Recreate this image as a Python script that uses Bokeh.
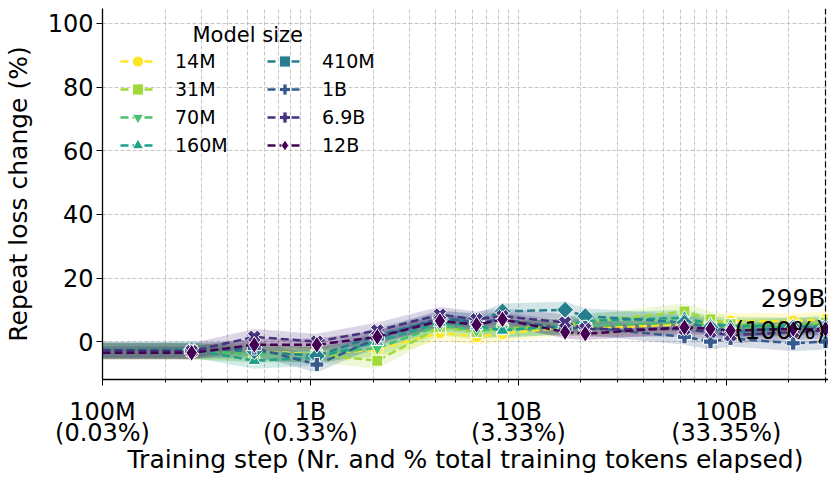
import numpy as np
from bokeh.plotting import figure
from bokeh.models import FixedTicker, Legend, LegendItem, Label, Span, Range1d, LogAxis
from bokeh.embed import file_html
from bokeh.resources import INLINE

# ---------------- data ----------------
TOKENS_PER_STEP = 2097152
steps = [32, 128, 256, 512, 1000, 2000, 3000, 4000, 8000, 10000,
         30000, 40000, 50000, 100000, 143000]

model_sizes = ["14M", "31M", "70M", "160M", "410M", "1B", "6.9B", "12B"]

v_14m  = [-3.0, -3.0, -3.0, -4.0, -2.5, 2.8, 1.5, 2.5, 4.5, 4.0, 5.5, 6.0, 6.5, 6.5, 7.0]
v_31m  = [-3.0, -3.0, -4.0, -4.0, -6.0, 4.5, 3.0, 4.0, 5.0, 6.0, 9.5, 7.0, 5.5, 5.0, 6.0]
v_70m  = [-3.0, -3.0, -4.0, -4.0, -2.0, 5.0, 3.5, 4.0, 4.5, 5.0, 6.0, 5.0, 4.0, 5.0, 5.5]
v_160m = [-2.5, -2.5, -6.0, -5.0, 0.0, 6.0, 5.0, 3.5, 5.0, 6.5, 7.5, 5.5, 5.0, 5.0, 5.0]
v_410m = [-3.0, -2.5, -3.0, -4.5, 2.0, 7.0, 6.5, 9.5, 10.0, 8.0, 6.0, 4.5, 3.0, 4.5, 4.5]
v_1b   = [-3.0, -3.0, -2.0, -7.2, 1.0, 7.5, 6.0, 7.0, 4.0, 4.5, 1.5, 0.0, 1.0, -0.5, 0.0]
v_6_9b = [-2.5, -3.0, 1.5, 0.0, 3.5, 8.5, 7.0, 8.0, 6.0, 4.0, 4.0, 3.0, 2.0, 3.0, 3.5]
v_12b  = [-3.5, -3.5, -1.0, -1.0, 1.5, 6.5, 5.3, 7.0, 3.0, 2.5, 4.5, 4.0, 3.5, 4.0, 4.0]
series_values = [v_14m, v_31m, v_70m, v_160m, v_410m, v_1b, v_6_9b, v_12b]

# half-width of the shaded confidence band per model
ci_half = [2.5, 2.5, 2.5, 2.5, 2.5, 2.5, 2.5, 2.0]

x_tick_vals = [1e8, 1e9, 1e10, 1e11]
x_tick_tokens = ["100M", "1B", "10B", "100B"]
x_tick_percent = ["(0.03%)", "(0.33%)", "(3.33%)", "(33.35%)"]
y_tick_vals = [0, 20, 40, 60, 80, 100]
end_label = "299B\n(100%)"
x_title = "Training step (Nr. and % total training tokens elapsed)"
y_title = "Repeat loss change (%)"

# ---------------- style ----------------
colors = ["#fde725", "#a0da39", "#4ac16d", "#1fa187",
          "#277f8e", "#365c8d", "#46327e", "#440154"]
markers = [("circle", 12, 0), ("square", 11, 0), ("inverted_triangle", 13, 0),
           ("triangle", 13, 0), ("square", 12, np.pi / 4), ("plus", 14, 0),
           ("plus", 14, np.pi / 4), ("diamond", 17, 0)]
FONT = "DejaVu Sans"

tokens = np.array(steps, dtype=float) * TOKENS_PER_STEP

p = figure(width=828, height=476, x_axis_type="log",
           x_range=Range1d(1e8, 3.1e11), y_range=Range1d(-11.9, 104.7),
           output_backend="svg", toolbar_location=None,
           min_border_left=100, min_border_right=0, min_border_top=8,
           min_border_bottom=96)
p.outline_line_color = None
p.background_fill_color = "white"

# bands first (below all lines)
for vals, c, h in zip(series_values, colors, ci_half):
    v = np.array(vals)
    p.varea(x=tokens, y1=v - h, y2=v + h, fill_color=c, fill_alpha=0.2)

items = []
for name, vals, c, (mk, sz, ang) in zip(model_sizes, series_values, colors, markers):
    ln = p.line(tokens, vals, line_color=c, line_width=2.5, line_dash="8 4")
    sc = p.scatter(tokens, vals, marker=mk, size=sz, angle=ang,
                   fill_color=c, line_color="white", line_width=1)
    items.append(LegendItem(label=name, renderers=[ln, sc]))

# vertical line at the end of training
p.add_layout(Span(location=tokens[-1], dimension="height", line_color="black",
                  line_dash="6 3", line_width=1.2))
p.add_layout(Label(x=tokens[-1], y=8.5, text=end_label, text_align="right",
                   text_baseline="middle", text_font=FONT, text_font_size="25px",
                   text_line_height=1.1, text_color="black", x_offset=0))

# axes
minor = [m * 10.0 ** e for e in range(8, 12) for m in range(2, 10)]
p.xaxis.ticker = FixedTicker(ticks=x_tick_vals, minor_ticks=minor)
p.xaxis.major_label_overrides = dict(zip(x_tick_vals, x_tick_tokens))
p.yaxis.ticker = FixedTicker(ticks=y_tick_vals)
p.yaxis.axis_label = y_title

# second row of x tick labels (percent of tokens) + axis title
pct_axis = LogAxis(ticker=FixedTicker(ticks=x_tick_vals),
                   major_label_overrides=dict(zip(x_tick_vals, x_tick_percent)),
                   axis_label=x_title,
                   axis_line_color=None, major_tick_line_color=None,
                   minor_tick_line_color=None)
p.add_layout(pct_axis, "below")

for ax in (p.xaxis[0], p.yaxis[0], pct_axis):
    ax.major_label_text_font = FONT
    ax.major_label_text_font_size = "24px"
    ax.major_label_text_color = "black"
    ax.axis_label_text_font = FONT
    ax.axis_label_text_font_size = "25px"
    ax.axis_label_text_font_style = "normal"
    ax.axis_label_text_color = "black"
for ax in (p.xaxis[0], p.yaxis[0]):
    ax.axis_line_color = "black"
    ax.axis_line_width = 1.3
    ax.major_tick_line_color = "black"
    ax.major_tick_in = 0
    ax.major_tick_out = 6
    ax.minor_tick_line_color = "black"
    ax.minor_tick_in = 0
    ax.minor_tick_out = 3
p.yaxis.minor_tick_line_color = None
p.xaxis[0].major_label_standoff = 12
pct_axis.major_tick_in = 0
pct_axis.major_tick_out = 0
pct_axis.minor_tick_in = 0
pct_axis.minor_tick_out = 0
pct_axis.major_label_standoff = -10
pct_axis.axis_label_standoff = -5
p.yaxis.major_label_standoff = 3
p.yaxis.axis_label_standoff = 12

for g in (p.xgrid[0], p.ygrid[0]):
    g.grid_line_color = "#b8b8b8"
    g.grid_line_dash = "4 2"
    g.grid_line_width = 0.8
p.xgrid.minor_grid_line_color = "#b8b8b8"
p.xgrid.minor_grid_line_dash = "4 2"
p.xgrid.minor_grid_line_width = 0.8

# legend in two columns + title
leg_kw = dict(background_fill_alpha=0, border_line_alpha=0, padding=0, margin=0,
              spacing=0, glyph_width=35, glyph_height=28, label_height=28,
              label_standoff=20, label_text_font=FONT, label_text_font_size="19px",
              label_text_color="black")
p.add_layout(Legend(items=items[:4], location=(18, 220), **leg_kw))
p.add_layout(Legend(items=items[4:], location=(165, 220), **leg_kw))
p.add_layout(Label(x=90, y=345, x_units="screen", y_units="screen",
                   text="Model size", text_font=FONT, text_font_size="21px",
                   text_baseline="middle", text_color="black"))

open("out.html", "w").write(file_html(p, INLINE))
